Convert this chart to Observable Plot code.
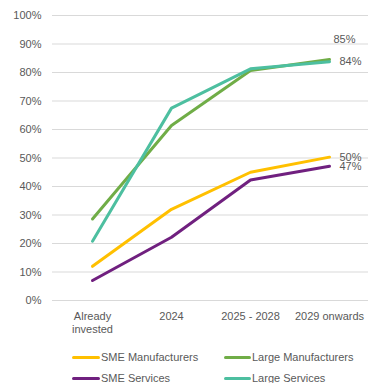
<!DOCTYPE html>
<html><head><meta charset="utf-8">
<script src="https://cdn.jsdelivr.net/npm/d3@7"></script>
<script src="https://cdn.jsdelivr.net/npm/@observablehq/plot@0.6"></script>
<style>
body{margin:0;background:#fff;font-family:"Liberation Sans",Arial,sans-serif;overflow:hidden;}
#legend{position:relative;width:371px;height:41px;font-size:11px;color:#595959;}
.item{position:absolute;display:flex;align-items:center;height:14px;white-space:nowrap;}
.sw{display:inline-block;height:3px;border-radius:1.5px;margin-right:1px;}
</style></head>
<body>
<div id="chart"></div>
<div id="legend"></div>
<script>
const categories = ["Already invested", "2024", "2025 - 2028", "2029 onwards"];
const seriesNames = ["SME Manufacturers", "Large Manufacturers", "SME Services", "Large Services"];
const colors = ["#FFC000", "#70AD47", "#70207F", "#4DBFA0"];
const smeManufacturers = [0.12, 0.32, 0.45, 0.503];
const largeManufacturers = [0.286, 0.614, 0.807, 0.846];
const smeServices = [0.07, 0.222, 0.423, 0.471];
const largeServices = [0.208, 0.675, 0.813, 0.838];
const endLabels = ["50%", "85%", "47%", "84%"];
const yTicks = [0, 0.1, 0.2, 0.3, 0.4, 0.5, 0.6, 0.7, 0.8, 0.9, 1];

const allSeries = [smeManufacturers, largeManufacturers, smeServices, largeServices];
const data = [];
allSeries.forEach((vals, i) => vals.forEach((v, j) => data.push({series: seriesNames[i], cat: categories[j], value: v})));
const ends = allSeries.map((vals, i) => ({series: seriesNames[i], cat: categories[3], value: vals[3], label: endLabels[i]}));

const chart = Plot.plot({
  width: 371, height: 342,
  marginLeft: 52, marginRight: 3, marginTop: 15, marginBottom: 42,
  style: {fontFamily: "'Liberation Sans', Arial, sans-serif", fontSize: "11px", color: "#595959", background: "#fff"},
  x: {type: "point", domain: categories, padding: 0.5, label: null},
  y: {domain: [0, 1], label: null},
  color: {domain: seriesNames, range: colors},
  marks: [
    Plot.gridY(yTicks, {stroke: "#d9d9d9", strokeOpacity: 1, strokeWidth: 1}),
    Plot.axisY(yTicks, {tickSize: 0, tickPadding: 11, tickFormat: d => Math.round(d * 100) + "%", label: null, fill: "#595959"}),
    Plot.axisX({tickSize: 0, tickPadding: 10, tickFormat: d => d === "Already invested" ? "Already\ninvested" : d, label: null, fill: "#595959", lineHeight: 1.2}),
    Plot.line(data, {x: "cat", y: "value", z: "series", stroke: "series", strokeWidth: 3, strokeLinecap: "round", strokeLinejoin: "round"}),
    Plot.text(ends.filter(d => d.label !== "85%"), {x: "cat", y: "value", text: "label", textAnchor: "start", dx: 10, fill: "#595959", fontSize: 11}),
    Plot.text(ends.filter(d => d.label === "85%"), {x: "cat", y: "value", text: "label", textAnchor: "start", dx: 4, dy: -20, fill: "#595959", fontSize: 11})
  ]
});
document.getElementById("chart").appendChild(chart);

const legend = document.getElementById("legend");
const pos = [[72, 15], [224, 15], [72, 36], [224, 36]];
seriesNames.forEach((name, i) => {
  const it = document.createElement("div");
  it.className = "item";
  it.style.left = pos[i][0] + "px";
  it.style.top = (pos[i][1] - 7) + "px";
  const sw = document.createElement("span");
  sw.className = "sw";
  sw.style.width = (i % 2 === 0 ? 28 : 27) + "px";
  sw.style.background = colors[i];
  it.appendChild(sw);
  it.appendChild(document.createTextNode(name));
  legend.appendChild(it);
});
</script>
</body></html>
